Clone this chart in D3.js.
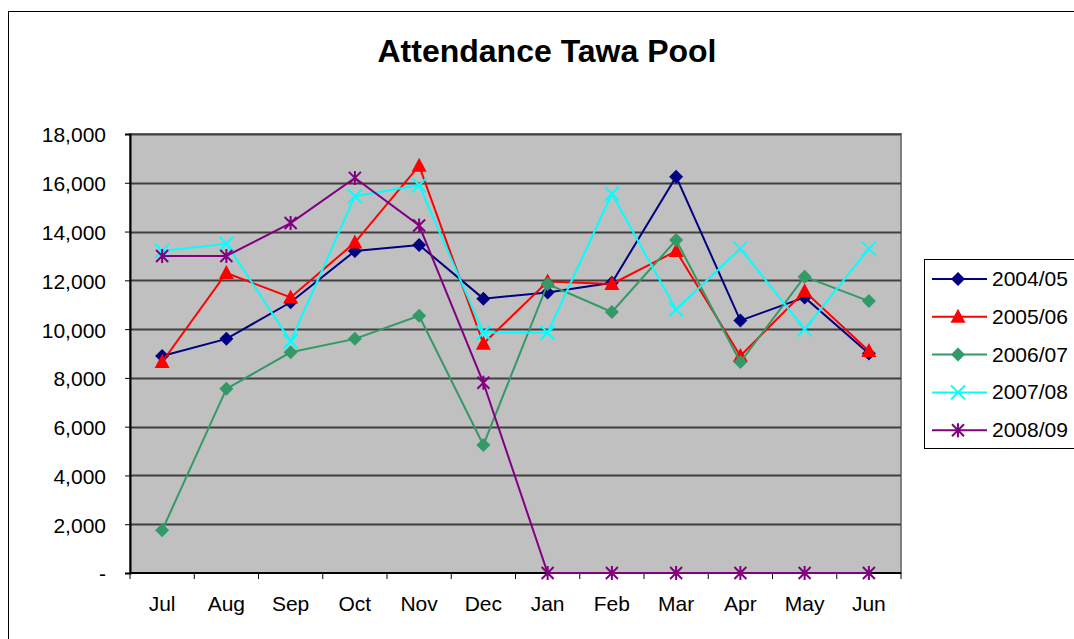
<!DOCTYPE html>
<html><head><meta charset="utf-8">
<script src="https://cdn.jsdelivr.net/npm/d3@7"></script>
<style>body{margin:0;background:#fff;}svg{display:block;font-family:"Liberation Sans",Arial,sans-serif;}</style>
</head><body><svg id="c" width="1074" height="639"></svg>
<script>
const months = ["Jul","Aug","Sep","Oct","Nov","Dec","Jan","Feb","Mar","Apr","May","Jun"];
const seriesNames = ["2004/05","2005/06","2006/07","2007/08","2008/09"];
const v2004 = [8900,9600,11100,13200,13450,11250,11500,11900,16250,10350,11300,9000];
const v2005 = [8650,12300,11300,13550,16700,9400,11950,11850,13200,8900,11550,9100];
const v2006 = [1750,7550,9050,9600,10550,5250,11850,10700,13650,8650,12150,11150];
const v2007 = [13200,13500,9500,15450,15900,9850,9850,15550,10800,13300,10000,13300];
const v2008 = [13000,13000,14350,16200,14250,7800,0,0,0,0,0,0];
const yTicks = [0,2000,4000,6000,8000,10000,12000,14000,16000,18000];
const colors = ["#000080","#ff0000","#339966","#00ffff","#800080"];
const markers = ["diamond","triangle","diamond","x","star"];
const allSeries = [v2004,v2005,v2006,v2007,v2008];

const svg = d3.select("#c");
const L=130,R=901,T=134,B=573;
svg.append("rect").attr("x",8.5).attr("y",11.5).attr("width",1080).attr("height",640)
  .attr("fill","#fff").attr("stroke","#000").attr("stroke-width",1);
svg.append("text").attr("x",547).attr("y",62).attr("text-anchor","middle")
  .attr("font-size",32).attr("font-weight","bold").text("Attendance Tawa Pool");

const x = d3.scaleBand().domain(months).range([L,R]);
const y = d3.scaleLinear().domain([0,18000]).range([B,T]);

svg.append("rect").attr("x",L).attr("y",T).attr("width",R-L).attr("height",B-T)
  .attr("fill","#c0c0c0").attr("stroke","#808080").attr("stroke-width",2);
svg.append("g").selectAll("line").data(yTicks.slice(1)).join("line")
  .attr("x1",L).attr("x2",R).attr("y1",d=>Math.round(y(d))+0.5).attr("y2",d=>Math.round(y(d))+0.5)
  .attr("stroke","#404040").attr("stroke-width",2);

const yAxis = d3.axisLeft(y).tickValues(yTicks).tickSize(5).tickPadding(19)
  .tickFormat(d=>d===0?"-":d3.format(",")(d));
const gy = svg.append("g").attr("transform",`translate(${L},0)`).call(yAxis);
gy.selectAll("text").attr("font-size",21).attr("dy","0.38em").attr("fill","#000").attr("font-family","Liberation Sans, Arial, sans-serif");
gy.select(".domain").attr("stroke","#000").attr("stroke-width",2);
gy.selectAll(".tick line").attr("stroke","#000");

const xb = svg.append("g").attr("transform",`translate(0,${B})`);
xb.append("line").attr("x1",L).attr("x2",R).attr("stroke","#000").attr("stroke-width",2);
const bounds = months.map((m)=>x(m)).concat([R]);
xb.selectAll("line.t").data(bounds).join("line").attr("class","t")
  .attr("x1",d=>d).attr("x2",d=>d).attr("y1",0).attr("y2",6).attr("stroke","#000");
xb.selectAll("text").data(months).join("text")
  .attr("x",d=>x(d)+x.bandwidth()/2).attr("y",38).attr("text-anchor","middle")
  .attr("font-size",21).text(d=>d);

function drawMarker(g,type,cx,cy,color){
  if(type==="diamond"){
    g.append("path").attr("d",`M${cx},${cy-7}L${cx+7},${cy}L${cx},${cy+7}L${cx-7},${cy}Z`).attr("fill",color);
  } else if(type==="triangle"){
    g.append("path").attr("d",`M${cx},${cy-8}L${cx+7.5},${cy+6}L${cx-7.5},${cy+6}Z`).attr("fill",color);
  } else if(type==="x"){
    g.append("path").attr("d",`M${cx-7},${cy-7}L${cx+7},${cy+7}M${cx+7},${cy-7}L${cx-7},${cy+7}`)
      .attr("stroke",color).attr("stroke-width",2).attr("fill","none");
  } else {
    g.append("path").attr("d",`M${cx-6},${cy-6}L${cx+6},${cy+6}M${cx+6},${cy-6}L${cx-6},${cy+6}M${cx},${cy-7}L${cx},${cy+7}`)
      .attr("stroke",color).attr("stroke-width",2).attr("fill","none");
  }
}

const line = d3.line().x((d,i)=>x(months[i])+x.bandwidth()/2).y(d=>y(d));
allSeries.forEach((s,k)=>{
  const g = svg.append("g");
  g.append("path").datum(s).attr("d",line).attr("fill","none").attr("stroke",colors[k]).attr("stroke-width",2);
  s.forEach((v,i)=>drawMarker(g,markers[k],x(months[i])+x.bandwidth()/2,y(v),colors[k]));
});

const lg = svg.append("g");
lg.append("rect").attr("x",924.5).attr("y",259.5).attr("width",160).attr("height",189)
  .attr("fill","#fff").attr("stroke","#000");
seriesNames.forEach((n,k)=>{
  const cy = 279 + k*37.8;
  lg.append("line").attr("x1",932).attr("x2",987).attr("y1",cy).attr("y2",cy).attr("stroke",colors[k]).attr("stroke-width",2);
  drawMarker(lg,markers[k],958,cy,colors[k]);
  lg.append("text").attr("x",992).attr("y",cy+7).attr("font-size",21).text(n);
});
</script></body></html>
